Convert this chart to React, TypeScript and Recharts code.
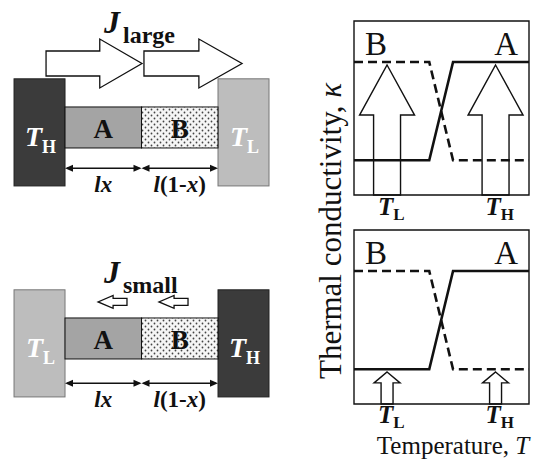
import {
  ComposedChart,
  XAxis,
  YAxis,
  ReferenceArea,
  ReferenceLine,
  Line,
  Bar,
} from "recharts";

const SERIF = '"Liberation Serif", "DejaVu Serif", serif';
const INK = "#111";

// Thermal conductivity vs temperature (arbitrary units on both axes)
const temperature = [0, 43, 56.6, 100];
const kappaA = [20, 20, 76.4, 76.4];
const kappaB = [76.4, 76.4, 20, 20];

// Heat input arrows at T_L and T_H
const heatTemps = [19, 81];
const heatLabels = ["L", "H"];
const heatLarge = [74.7, 74.7];
const heatSmall = [18.4, 18.4];

// Rod: A has length l·x, B has length l·(1-x); x = 0.5
const rodFraction = 0.5;
const rodMaterials = ["A", "B"];

// Heat-flux arrows above the rod (in units of the rod length l)
const fluxLargeTail = [-0.124, 0.516];
const fluxLargeTip = [0.503, 1.157];
const fluxSmallTail = [0.405, 0.804];
const fluxSmallTip = [0.216, 0.614];

const COLORS = { hot: "#3b3b3b", cold: "#bdbdbd", A: "#a4a4a4" };

// ---------- shapes ----------
const pts = (p: number[][]) => p.map((q) => q.join(",")).join(" ");

const blockArrow =
  (dir: "left" | "right", headFrac: number, shaftFrac: number) => (p: any) => {
    const { x, y, width: w, height: h } = p;
    const cy = y + h / 2;
    const s = (h / 2) * shaftFrac;
    const hl = w * headFrac;
    const poly =
      dir === "right"
        ? [
            [x, cy - s],
            [x + w - hl, cy - s],
            [x + w - hl, y],
            [x + w, cy],
            [x + w - hl, y + h],
            [x + w - hl, cy + s],
            [x, cy + s],
          ]
        : [
            [x + w, cy - s],
            [x + hl, cy - s],
            [x + hl, y],
            [x, cy],
            [x + hl, y + h],
            [x + hl, cy + s],
            [x + w, cy + s],
          ];
    return <polygon points={pts(poly)} fill="#fff" stroke={INK} strokeWidth={1.3} />;
  };

// bar drawn as a hollow up-arrow; width in px, centred on the bar slot
const upArrow = (w: number, headFrac: number, shaftFrac: number) => (p: any) => {
  const { y, height: h } = p;
  const cx = p.x + p.width / 2;
  const x = cx - w / 2;
  const hb = y + h * headFrac;
  const s = (w / 2) * shaftFrac;
  const poly = [
    [cx, y],
    [x + w, hb],
    [cx + s, hb],
    [cx + s, y + h],
    [cx - s, y + h],
    [cx - s, hb],
    [x, hb],
  ];
  return <polygon points={pts(poly)} fill="none" stroke={INK} strokeWidth={1.4} />;
};

const reservoirShape = (hot: boolean) => (p: any) => {
  const { x, y, width: w, height: h } = p;
  return (
    <g>
      <rect x={x} y={y} width={w} height={h} fill={hot ? COLORS.hot : COLORS.cold} stroke={hot ? "#222" : "#777"} strokeWidth={1} />
      <text
        x={x + w / 2 + 1}
        y={y + h / 2 + 14}
        textAnchor="middle"
        fill="#fff"
        fontFamily={SERIF}
        fontWeight="bold"
      >
        <tspan fontStyle="italic" fontSize={28}>T</tspan>
        <tspan fontSize={18} dy={7}>{hot ? "H" : "L"}</tspan>
      </text>
    </g>
  );
};

const rodShape = (label: string, fill: string) => (p: any) => {
  const { x, y, width: w, height: h } = p;
  return (
    <g>
      <rect x={x} y={y} width={w} height={h} fill={fill} stroke={INK} strokeWidth={1} />
      <text x={x + w / 2} y={y + h / 2 + 11} textAnchor="middle" fill={INK} fontFamily={SERIF} fontWeight="bold" fontSize={27}>
        {label}
      </text>
    </g>
  );
};

const dimShape = (label: React.ReactNode) => (p: any) => {
  const { x1, x2, y1 } = p;
  const a = 8;
  const b = 3.5;
  return (
    <g>
      <line x1={x1 + 2} y1={y1} x2={x2 - 2} y2={y1} stroke={INK} strokeWidth={1.5} />
      <polygon points={pts([[x1, y1], [x1 + a, y1 - b], [x1 + a, y1 + b]])} fill={INK} />
      <polygon points={pts([[x2, y1], [x2 - a, y1 - b], [x2 - a, y1 + b]])} fill={INK} />
      <text x={(x1 + x2) / 2} y={y1 + 24} textAnchor="middle" fill={INK} fontFamily={SERIF} fontWeight="bold" fontSize={23}>
        {label}
      </text>
    </g>
  );
};

// ---------- schematic ----------
interface SchematicProps {
  top: number;
  hotLeft: boolean;
  tails: number[];
  tips: number[];
  fluxY: number;
  fluxHalf: number;
  headFrac: number;
  shaftFrac: number;
  dimY: number;
}

function Schematic({ top, hotLeft, tails, tips, fluxY, fluxHalf, headFrac, shaftFrac, dimY }: SchematicProps) {
  const rod = rodMaterials.map((m, i) => ({
    m,
    x1: i === 0 ? 0 : rodFraction,
    x2: i === 0 ? rodFraction : 1,
  }));
  const patId = `dots${top}`;
  return (
    <div style={{ position: "absolute", left: 0, top }}>
      <ComposedChart width={290} height={230} data={rod} margin={{ top: 0, right: 0, bottom: 0, left: 0 }}>
        <defs>
          <pattern id={patId} width={6} height={6} patternUnits="userSpaceOnUse">
            <rect width={6} height={6} fill="#f6f6f6" />
            <circle cx={1.5} cy={1.5} r={0.9} fill="#444" />
            <circle cx={4.5} cy={4.5} r={0.9} fill="#444" />
          </pattern>
        </defs>
        <XAxis type="number" dataKey="x1" domain={[-0.425, 1.4706]} hide allowDataOverflow />
        <YAxis type="number" domain={[-0.67, 0.833]} hide allowDataOverflow />
        <ReferenceArea x1={-1 / 3} x2={0} y1={-0.382} y2={0.318} shape={reservoirShape(hotLeft)} ifOverflow="visible" />
        <ReferenceArea x1={1} x2={4 / 3} y1={-0.382} y2={0.318} shape={reservoirShape(!hotLeft)} ifOverflow="visible" />
        {rod.map((r) => (
          <ReferenceArea
            key={r.m}
            x1={r.x1}
            x2={r.x2}
            y1={-0.134}
            y2={0.134}
            shape={rodShape(r.m, r.m === "A" ? COLORS.A : `url(#${patId})`)}
            ifOverflow="visible"
          />
        ))}
        {tails.map((t, i) => (
          <ReferenceArea
            key={`f${i}`}
            x1={Math.min(t, tips[i])}
            x2={Math.max(t, tips[i])}
            y1={fluxY - fluxHalf}
            y2={fluxY + fluxHalf}
            shape={blockArrow(tips[i] > t ? "right" : "left", headFrac, shaftFrac)}
            ifOverflow="visible"
          />
        ))}
        <ReferenceLine
          segment={[{ x: 0, y: dimY }, { x: rodFraction, y: dimY }]}
          shape={dimShape(<tspan fontStyle="italic">lx</tspan>)}
          ifOverflow="visible"
        />
        <ReferenceLine
          segment={[{ x: rodFraction, y: dimY }, { x: 1, y: dimY }]}
          shape={dimShape(
            <>
              <tspan fontStyle="italic">l</tspan>
              <tspan>(1-</tspan>
              <tspan fontStyle="italic">x</tspan>
              <tspan>)</tspan>
            </>
          )}
          ifOverflow="visible"
        />
      </ComposedChart>
    </div>
  );
}

// ---------- kappa(T) plot ----------
const makeTempTick = (dy: number) => (p: any) => {
  const i = heatTemps.indexOf(p.payload.value);
  return (
    <text x={p.x + 4} y={p.y + dy} textAnchor="middle" fill={INK} fontFamily={SERIF} fontWeight="bold">
      <tspan fontStyle="italic" fontSize={25}>T</tspan>
      <tspan fontSize={17} dy={5}>{heatLabels[i]}</tspan>
    </text>
  );
};

interface PlotProps {
  top: number;
  heat: number[];
  arrowWidth: number;
  headFrac: number;
  shaftFrac: number;
  tickDy: number;
}

function KappaPlot({ top, heat, arrowWidth, headFrac, shaftFrac, tickDy }: PlotProps) {
  const arrows = heatTemps.map((T, i) => ({ T, q: heat[i] }));
  const lineA = temperature.map((T, i) => ({ T, k: kappaA[i] }));
  const lineB = temperature.map((T, i) => ({ T, k: kappaB[i] }));
  return (
    <div style={{ position: "absolute", left: 340, top }}>
      <ComposedChart width={199} height={230} data={arrows} margin={{ top: 21, right: 10, bottom: 0, left: 14 }}>
        <XAxis
          type="number"
          dataKey="T"
          domain={[0, 100]}
          ticks={heatTemps}
          interval={0}
          axisLine={false}
          tickLine={false}
          tickSize={0}
          tickMargin={0}
          height={35}
          tick={makeTempTick(tickDy)}
        />
        <YAxis type="number" domain={[0, 100]} hide />
        <ReferenceArea x1={0} x2={100} y1={0} y2={100} fill="none" stroke={INK} strokeWidth={1.4} fillOpacity={0} ifOverflow="visible" />
        <Bar dataKey="q" barSize={arrowWidth} shape={upArrow(arrowWidth, headFrac, shaftFrac)} isAnimationActive={false} />
        <Line
          data={lineB}
          dataKey="k"
          type="linear"
          stroke={INK}
          strokeWidth={2.6}
          strokeDasharray="9 5"
          dot={false}
          isAnimationActive={false}
          label={(p: any) =>
            p.index === 0 ? (
              <text key="lb" x={p.x + 11} y={p.y - 7} fontFamily={SERIF} fontSize={33} fill={INK}>B</text>
            ) : (
              <g key={`lb${p.index}`} />
            )
          }
        />
        <Line
          data={lineA}
          dataKey="k"
          type="linear"
          stroke={INK}
          strokeWidth={2.6}
          dot={false}
          isAnimationActive={false}
          label={(p: any) =>
            p.index === temperature.length - 1 ? (
              <text key="la" x={p.x - 11} y={p.y - 7} textAnchor="end" fontFamily={SERIF} fontSize={33} fill={INK}>A</text>
            ) : (
              <g key={`la${p.index}`} />
            )
          }
        />
      </ComposedChart>
    </div>
  );
}

export default function App() {
  return (
    <div style={{ position: "relative", width: 539, height: 461, background: "#fff", overflow: "hidden" }}>
      <style>{`body{margin:0}`}</style>
      <Schematic
        top={0}
        hotLeft
        tails={fluxLargeTail}
        tips={fluxLargeTip}
        fluxY={0.418}
        fluxHalf={0.16}
        headFrac={0.44}
        shaftFrac={0.51}
        dimY={-0.267}
      />
      <Schematic
        top={211}
        hotLeft={false}
        tails={fluxSmallTail}
        tips={fluxSmallTip}
        fluxY={0.239}
        fluxHalf={0.042}
        headFrac={0.52}
        shaftFrac={0.54}
        dimY={-0.293}
      />
      <KappaPlot top={0} heat={heatLarge} arrowWidth={55} headFrac={0.385} shaftFrac={0.49} tickDy={20} />
      <KappaPlot top={209} heat={heatSmall} arrowWidth={26} headFrac={0.34} shaftFrac={0.46} tickDy={19} />
      <svg width={539} height={461} style={{ position: "absolute", left: 0, top: 0, pointerEvents: "none" }}>
        <text x={104} y={33} fontFamily={SERIF} fontWeight="bold" fill={INK}>
          <tspan fontStyle="italic" fontSize={32}>J</tspan>
          <tspan fontSize={24} dx={3} dy={10}>large</tspan>
        </text>
        <text x={104} y={283} fontFamily={SERIF} fontWeight="bold" fill={INK}>
          <tspan fontStyle="italic" fontSize={32}>J</tspan>
          <tspan fontSize={24} dx={3} dy={10}>small</tspan>
        </text>
        <text
          transform="translate(341,231) rotate(-90)"
          textAnchor="middle"
          fontFamily={SERIF}
          fontSize={31}
          fill={INK}
        >
          Thermal conductivity, <tspan fontStyle="italic">κ</tspan>
        </text>
        <text x={453} y={454} textAnchor="middle" fontFamily={SERIF} fontSize={25} fill={INK}>
          Temperature, <tspan fontStyle="italic">T</tspan>
        </text>
      </svg>
    </div>
  );
}
